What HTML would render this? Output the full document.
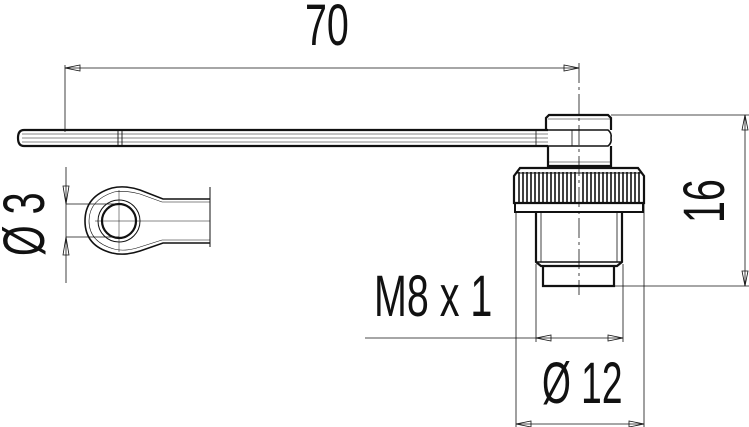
<!DOCTYPE html>
<html><head><style>
body{margin:0;background:#fff}
svg{display:block}
text{font-family:"Liberation Sans",sans-serif;fill:#111}
</style></head><body>
<svg width="749" height="427" viewBox="0 0 749 427" xmlns="http://www.w3.org/2000/svg">
<g fill="none" stroke="#111">
<line x1="65" y1="68" x2="579" y2="68" stroke-width="0.8"/>
<line x1="65" y1="65" x2="65" y2="132" stroke-width="0.8"/>
<line x1="579" y1="63" x2="579" y2="295" stroke-width="0.8" stroke-dasharray="20,4,3,4"/>
<path d="M65 68 L80 65 L80 71 Z M579 68 L564 65 L564 71 Z" stroke-width="0.8"/>
<path d="M548 130 L24 130 Q18 130 18 138 Q18 146 24 146 L548 146" stroke-width="2.2"/>
<line x1="22" y1="134" x2="548" y2="134" stroke-width="0.6"/>
<line x1="22" y1="138" x2="548" y2="138" stroke-width="0.6"/>
<line x1="22" y1="142" x2="548" y2="142" stroke-width="0.6"/>
<line x1="118" y1="130" x2="118" y2="146" stroke-width="0.9"/>
<line x1="122" y1="130" x2="122" y2="146" stroke-width="0.9"/>
<path d="M546 130 L546 118 L549 115 L608 115 L611 118 L611 130" stroke-width="2.2"/>
<line x1="548" y1="119" x2="610" y2="119" stroke-width="0.6"/>
<path d="M546 130 L608 130 Q612 133 611 138 Q612 143 608 146 L546 146" stroke-width="1.6"/>
<line x1="536" y1="130" x2="536" y2="146" stroke-width="0.8"/>
<line x1="572" y1="130" x2="572" y2="146" stroke-width="0.8"/>
<path d="M548 146 L548 166 L611 166 L611 146" stroke-width="2.2"/>
<line x1="548" y1="162" x2="611" y2="162" stroke-width="0.6"/>
<path d="M514 203 L514 176 L520 168 L638 168 L644 176 L644 203 Z" stroke-width="2.2"/>
<g stroke-width="1.6">
<line x1="519" y1="172" x2="519" y2="202"/><line x1="523" y1="172" x2="523" y2="202"/><line x1="527" y1="172" x2="527" y2="202"/><line x1="531" y1="172" x2="531" y2="202"/><line x1="535" y1="172" x2="535" y2="202"/><line x1="539" y1="172" x2="539" y2="202"/><line x1="543" y1="172" x2="543" y2="202"/><line x1="547" y1="172" x2="547" y2="202"/><line x1="551" y1="172" x2="551" y2="202"/><line x1="555" y1="172" x2="555" y2="202"/><line x1="559" y1="172" x2="559" y2="202"/><line x1="563" y1="172" x2="563" y2="202"/><line x1="567" y1="172" x2="567" y2="202"/><line x1="571" y1="172" x2="571" y2="202"/><line x1="575" y1="172" x2="575" y2="202"/><line x1="583" y1="172" x2="583" y2="202"/><line x1="587" y1="172" x2="587" y2="202"/><line x1="591" y1="172" x2="591" y2="202"/><line x1="595" y1="172" x2="595" y2="202"/><line x1="599" y1="172" x2="599" y2="202"/><line x1="603" y1="172" x2="603" y2="202"/><line x1="607" y1="172" x2="607" y2="202"/><line x1="611" y1="172" x2="611" y2="202"/><line x1="615" y1="172" x2="615" y2="202"/><line x1="619" y1="172" x2="619" y2="202"/><line x1="623" y1="172" x2="623" y2="202"/><line x1="627" y1="172" x2="627" y2="202"/><line x1="631" y1="172" x2="631" y2="202"/><line x1="635" y1="172" x2="635" y2="202"/><line x1="639" y1="172" x2="639" y2="202"/>
</g>
<line x1="516" y1="173" x2="642" y2="173" stroke-width="1"/>
<rect x="515" y="203" width="128" height="9" stroke-width="2"/>
<path d="M536 212 L536 262 L541 266 L617 266 L622 262 L622 212" stroke-width="2.2"/>
<line x1="541" y1="212" x2="541" y2="262" stroke-width="0.8"/>
<line x1="617" y1="212" x2="617" y2="262" stroke-width="0.8"/>
<line x1="536" y1="262" x2="622" y2="262" stroke-width="1.4"/>
<path d="M543 266 L543 286 L614 286 L614 266" stroke-width="2.2"/>
<line x1="611" y1="115" x2="749" y2="115" stroke-width="0.8"/>
<line x1="614" y1="286" x2="749" y2="286" stroke-width="0.8"/>
<line x1="745" y1="115" x2="745" y2="286" stroke-width="0.8"/>
<path d="M745 115 L742 130 L748 130 Z M745 286 L742 271 L748 271 Z" stroke-width="0.8"/>
<line x1="365" y1="338" x2="623" y2="338" stroke-width="0.8"/>
<line x1="536" y1="264" x2="536" y2="342" stroke-width="0.8"/>
<line x1="623" y1="264" x2="623" y2="342" stroke-width="0.8"/>
<path d="M536 338 L551 335 L551 341 Z M623 338 L608 335 L608 341 Z" stroke-width="0.8"/>
<line x1="516" y1="212" x2="516" y2="427" stroke-width="0.8"/>
<line x1="644" y1="203" x2="644" y2="427" stroke-width="0.8"/>
<line x1="516" y1="424" x2="644" y2="424" stroke-width="0.8"/>
<path d="M516 424 L531 421 L531 427 Z M644 424 L629 421 L629 427 Z" stroke-width="0.8"/>
<path d="M210 199 L163 199 L140 190 Q125 185 112 188 Q85 196 85 221 Q85 246 112 253 Q125 256 140 251 L163 243 L210 243" stroke-width="1.6"/>
<path d="M210 202 L162 202 L140 194 Q125 190 114 192 Q89 200 89 221 Q89 242 114 249 Q125 252 140 247 L162 240 L210 240" stroke-width="0.6"/>
<line x1="210" y1="187" x2="210" y2="247" stroke-width="1"/>
<circle cx="119" cy="221" r="21" stroke-width="1"/>
<circle cx="119" cy="221" r="17" stroke-width="2.2"/>
<line x1="119" y1="190" x2="119" y2="252" stroke-width="0.5"/>
<line x1="95" y1="221" x2="210" y2="221" stroke-width="0.5"/>
<line x1="66" y1="167" x2="66" y2="283" stroke-width="0.8"/>
<line x1="66" y1="204" x2="119" y2="204" stroke-width="0.8"/>
<line x1="66" y1="237" x2="119" y2="237" stroke-width="0.8"/>
<path d="M66 204 L63 186 L69 186 Z M66 237 L63 255 L69 255 Z" stroke-width="0.8"/>
</g>
<g font-size="58">
<text x="0" y="0" transform="translate(305,45) scale(0.68,1)">70</text>
<text x="0" y="0" transform="translate(374,316) scale(0.68,1)">M8 x 1</text>
<text x="0" y="0" transform="translate(542,403) scale(0.64,1)">Ø 12</text>
<text x="0" y="0" transform="translate(724,223) rotate(-90) scale(0.68,1)">16</text>
<text x="0" y="0" transform="translate(44,256) rotate(-90) scale(0.68,1)">Ø 3</text>
</g>
</svg>
</body></html>
